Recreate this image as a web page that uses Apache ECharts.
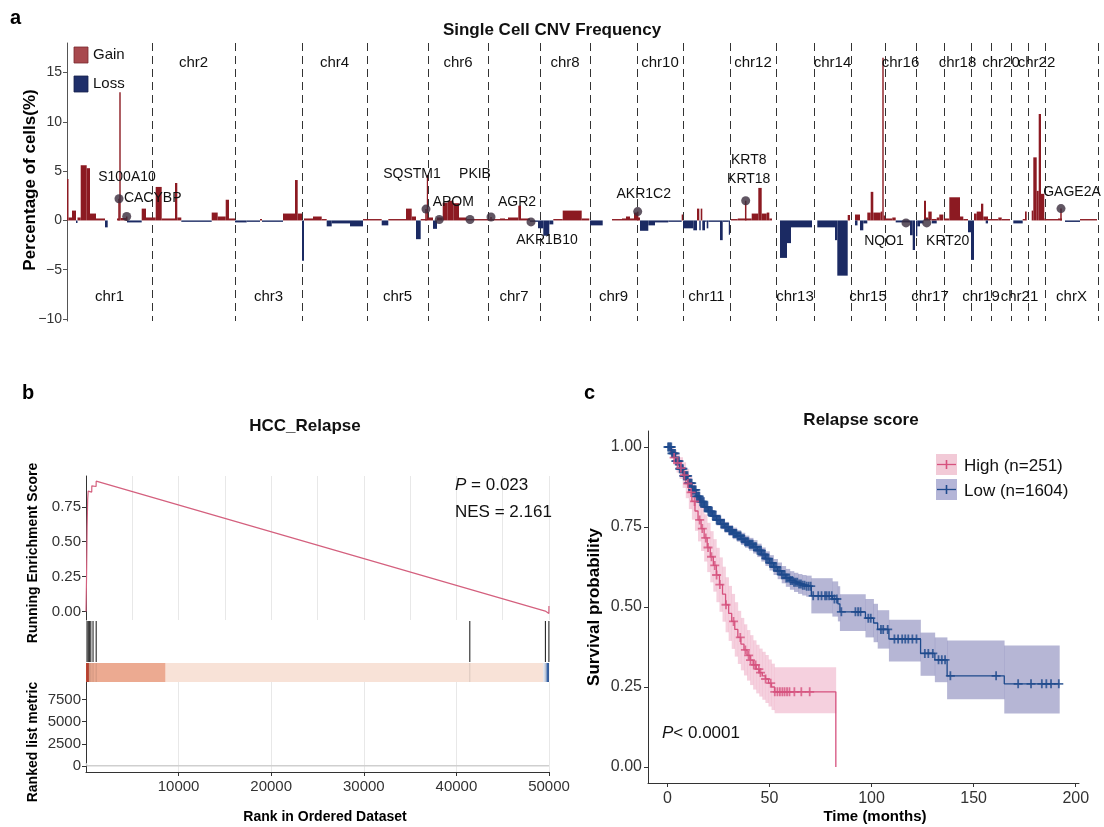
<!DOCTYPE html>
<html><head><meta charset="utf-8">
<script src="https://cdn.jsdelivr.net/npm/echarts@6/dist/echarts.min.js"></script>
<style>html,body{margin:0;padding:0;background:#fff}#c{width:1104px;height:827px}</style>
</head><body><div id="c"></div><script>
const FONT = "'Liberation Sans', Arial, Helvetica, sans-serif";

// ---------- Panel a: single-cell CNV frequency ----------
const chrNames = ['chr1','chr2','chr3','chr4','chr5','chr6','chr7','chr8','chr9','chr10','chr11','chr12','chr13','chr14','chr15','chr16','chr17','chr18','chr19','chr20','chr21','chr22','chrX'];
const chrLengths = [85,83,67,65,61,60,52,50,47,46,47,46,38,37,34,31,28,27,20,20,17,17,53];
// [chromosome index, start, end, % of cells] (positions relative to chromosome start)
const cnvSegments = [
  [1,0,1.5,4.2],[1,1.5,5,0.3],[1,5,9,1.0],[1,9,10.5,-0.25],[1,10.5,13.7,0.3],[1,13.7,19.7,5.6],[1,19.7,23,5.3],[1,23,29,0.7],[1,29,38,0.2],[1,38,40.7,-0.7],
  [1,50,52.3,0.2],[1,52.3,53.7,13.0],[1,53.7,60,0.25],[1,60,74.7,-0.2],[1,74.7,79,1.2],[1,79,85,0.3],
  [2,0,3.7,0.3],[2,3.7,9.7,3.4],[2,9.7,23,0.2],[2,23,25.3,3.8],[2,25.3,29.3,0.3],[2,29.3,59.7,-0.1],[2,59.7,65.7,0.8],[2,65.7,73.7,0.4],[2,73.7,77,2.1],[2,77,83,0.2],
  [3,0,11.7,-0.2],[3,11.7,25,-0.1],[3,25,27,0.15],[3,27,48,-0.1],[3,48,60,0.7],[3,60,62.7,4.1],[3,62.7,67,0.7],
  [4,0,2,-4.1],[4,2,11,0.2],[4,11,19.7,0.4],[4,19.7,24.7,0.1],[4,24.7,29.7,-0.6],[4,29.7,48,-0.3],[4,48,61,-0.6],[4,61,65,0.1],
  [5,0,14.7,0.1],[5,14.7,21.3,-0.5],[5,21.3,39,0.1],[5,39,44.7,1.2],[5,44.7,49,0.4],[5,49,53.7,-1.9],[5,53.7,59.8,0.1],[5,59.8,61,4.6],
  [6,0,5,0.3],[6,5,9,-0.85],[6,9,14.7,0.3],[6,14.7,19.7,1.8],[6,19.7,25.3,2.0],[6,25.3,31,1.75],[6,31,38.7,0.3],[6,38.7,60,0.1],
  [7,0,12,0.1],[7,12,17,0.2],[7,17,20,0.05],[7,20,30.3,0.3],[7,30.3,33,1.5],[7,33,42,0.2],[7,42,50,-0.1],[7,50,52,-0.8],
  [8,0,3.3,-0.8],[8,3.3,9.3,-1.55],[8,9.3,13.3,-0.4],[8,13.3,22.7,0.1],[8,22.7,41.7,1.0],[8,41.7,49.3,0.2],
  [9,0,12.7,-0.5],[9,22,32,0.1],[9,32,36,0.2],[9,36,40,0.4],[9,40,44,0.2],[9,44,47,0.8],
  [10,0,3,0.3],[10,3,11.3,-1.05],[10,11.3,18,-0.5],[10,18,31.3,-0.2],[10,31.3,44.7,-0.05],[10,44.7,46,0.6],
  [11,0,10.3,-0.8],[11,10.3,14,-1.0],[11,14,16.3,1.2],[11,16.3,17.7,-1.0],[11,17.7,19.3,1.2],[11,19.3,22,-1.0],[11,22,23.7,-0.1],[11,23.7,25.3,-0.8],[11,25.3,37,-0.1],[11,37,39.7,-2.0],[11,39.7,45.8,-0.1],[11,45.8,47,-1.45],
  [12,1,7.7,0.1],[12,7.7,14,0.2],[12,14,21.7,0.2],[12,21.7,28.3,0.7],[12,28.3,31.7,3.3],[12,31.7,36.7,0.7],[12,36.7,39.3,0.8],[12,39.3,42,0.2],
  [13,4,11,-3.8],[13,11,15,-2.3],[13,15,36,-0.7],
  [14,3.3,21,-0.7],[14,21,23.3,-2.0],[14,23.3,33.7,-5.6],[14,33.7,36,0.55],
  [15,4,9,0.6],[15,4,6.5,-0.5],[15,9,12.3,-1.0],[15,12.3,16.3,-0.3],[15,16.3,19.7,0.8],[15,19.7,22.3,2.9],[15,22.3,29.7,0.8],[15,29.7,31.3,0.9],[15,31.3,32.7,16.5],[15,32.7,34,0.5],
  [16,0,7.3,0.2],[16,7.3,10.7,0.3],[16,10.7,25,-0.2],[16,25,27.7,-1.5],[16,27.7,30,-3.0],
  [17,0,1.3,-1.6],[17,1.3,4,-0.6],[17,4,7.5,-0.3],[17,8,10,2.0],[17,10,12.3,0.3],[17,12.3,15.7,0.9],[17,15.7,20.7,-0.3],[17,15.7,20.7,0.15],[17,20.7,23.3,0.3],[17,23.3,27.3,0.6],
  [18,0,5.3,0.2],[18,5.3,16,2.35],[18,16,19.3,0.4],[18,19.3,24,0.1],[18,24,27,-1.2],
  [19,0,3,-4.0],[19,3,5.7,0.7],[19,5.7,10,0.9],[19,10,12.3,1.7],[19,12.3,17,0.4],[19,14.7,17,-0.3],[19,17,20,0.05],
  [20,0,7.3,0.1],[20,7.3,10.7,0.3],[20,10.7,19,0.1],
  [21,2.3,11.7,-0.3],[21,11.7,14,0.1],[21,14,15.7,0.9],
  [22,3.7,5.3,1.0],[22,5.3,8.7,6.4],[22,8.7,10.7,3.0],[22,10.7,13,10.8],[22,13,16.3,2.7],[22,16.3,17,0.2],
  [23,0,13,0.1],[23,13,17,0.2],[23,20,35,-0.15],[23,35,52,0.05]
];
const geneNames = ['S100A10','CACYBP','SQSTM1','APOM','PKIB','AGR2','AKR1B10','AKR1C2','KRT8\nKRT18','NQO1','KRT20','GAGE2A'];
const geneChr = [1,1,5,6,6,7,7,10,12,16,17,23];
const genePos = [52,59.7,59,11.3,42,3,43,0.7,15.7,21,10.7,16];
const geneValue = [2.2,0.4,1.15,0.1,0.1,0.35,-0.15,0.9,2.0,-0.25,-0.25,1.2];
const cnvTicks = [-10,-5,0,5,10,15];

// ---------- Panel b: GSEA ----------
const esRank = [0,60,120,180,236,620,628,1090,1100,49600,49610,49985,49995];
const esScore = [0,0.25,0.6,0.8,0.862,0.855,0.9,0.895,0.933,0.004,0.01,-0.013,0.04];
const hitRanks = [110,240,360,520,760,1100,41450,49610,49990];
const colorBarBreaks = [0,320,8600,49400,49720,50000];
const rankedRank = [1,120,50000];
const rankedMetric = [300,0,0];
const esTicks = [0,0.25,0.5,0.75];
const rankTicks = [10000,20000,30000,40000,50000];
const metricTicks = [0,2500,5000,7500];

// ---------- Panel c: Kaplan-Meier ----------
const highTime = [0,1.5,3,4.5,6,7.5,9,10.5,12,13.5,15,16.5,18,19.5,21,22.5,24,25.5,27,28.5,30,31.5,33,34.5,36,37.5,39,40.5,42,43.5,45,46.5,48,49.5,51,52.5,82.5];
const highSurv = [1,0.985,0.967,0.95,0.934,0.912,0.886,0.858,0.83,0.8,0.772,0.745,0.716,0.686,0.657,0.63,0.6,0.57,0.54,0.507,0.48,0.455,0.43,0.405,0.384,0.366,0.349,0.334,0.319,0.306,0.295,0.285,0.275,0.262,0.25,0.235,0];
const highLower = [1,0.97,0.943,0.92,0.9,0.872,0.84,0.806,0.773,0.738,0.705,0.675,0.642,0.609,0.577,0.548,0.515,0.485,0.454,0.421,0.394,0.369,0.345,0.322,0.302,0.286,0.27,0.256,0.242,0.23,0.22,0.21,0.2,0.189,0.178,0.168,0.168];
const highUpper = [1,0.998,0.99,0.98,0.968,0.952,0.932,0.91,0.887,0.862,0.839,0.815,0.79,0.763,0.737,0.712,0.685,0.655,0.626,0.593,0.566,0.541,0.515,0.488,0.466,0.446,0.428,0.412,0.396,0.382,0.37,0.36,0.35,0.336,0.323,0.312,0.312];
const highCensor = [3.3,5,6.6,8.3,10,11.6,13.3,15.8,17.1,18.8,19.9,21.6,23.2,24.1,25.7,28.7,32.4,35.7,38.2,39.8,40.7,42.3,43.2,44.8,45.6,48.1,50.6,52.6,53.9,55.1,56.3,57.4,58.6,59.8,62.2,65.6,69.7];
const lowTime = [0,2,4,6,8,10,12,14,16,18,20,22,24,26,28,30,32,34,36,38,40,42,44,46,48,50,52,54,56,58,60,62,64,66,68,70.5,80.8,83.5,84.5,97,101,103,108.5,124,131,137,165,192];
const lowSurv = [1,0.98,0.956,0.932,0.91,0.887,0.866,0.846,0.829,0.813,0.799,0.785,0.772,0.76,0.749,0.739,0.73,0.722,0.713,0.704,0.696,0.688,0.677,0.664,0.651,0.638,0.625,0.613,0.601,0.591,0.583,0.577,0.572,0.568,0.565,0.535,0.525,0.51,0.485,0.465,0.45,0.43,0.4,0.355,0.335,0.285,0.26,0.26];
const lowLower = [1,0.974,0.948,0.922,0.899,0.875,0.853,0.832,0.814,0.798,0.783,0.769,0.755,0.743,0.732,0.722,0.712,0.704,0.694,0.685,0.676,0.667,0.656,0.642,0.628,0.614,0.6,0.587,0.574,0.563,0.554,0.547,0.541,0.536,0.532,0.48,0.47,0.455,0.425,0.405,0.39,0.37,0.33,0.285,0.265,0.212,0.167,0.167];
const lowUpper = [1,0.986,0.964,0.942,0.921,0.899,0.879,0.86,0.844,0.828,0.815,0.801,0.789,0.777,0.766,0.756,0.748,0.74,0.732,0.723,0.716,0.709,0.698,0.686,0.674,0.662,0.65,0.639,0.628,0.619,0.612,0.607,0.603,0.6,0.598,0.59,0.58,0.565,0.54,0.525,0.51,0.49,0.46,0.42,0.405,0.395,0.38,0.38];
const lowCensor = [0.3,0.7,1.1,1.5,1.9,2.2,2.6,3.0,3.4,3.8,4.1,4.5,4.9,5.3,5.7,6.0,6.4,6.8,7.2,7.6,8.0,8.3,8.7,9.1,9.5,9.9,10.3,10.7,11.1,11.5,11.9,12.3,12.7,13.1,13.5,13.9,14.3,14.8,15.2,15.6,16.0,16.5,16.9,17.3,17.8,18.2,18.6,19.1,19.5,20.0,20.4,20.9,21.3,21.8,22.2,22.7,23.1,23.6,24.1,24.5,25.0,25.5,25.9,26.4,26.9,27.4,27.8,28.3,28.8,29.3,29.8,30.3,30.8,31.3,31.8,32.3,32.8,33.3,33.8,34.3,34.8,35.4,35.9,36.4,36.9,37.5,38.0,38.5,39.1,39.6,40.2,40.7,41.3,41.8,42.4,43.0,43.5,44.1,44.7,45.3,45.9,46.5,47.1,47.7,48.3,48.9,49.5,50.2,50.8,51.4,52.1,52.7,53.4,54.0,54.7,55.4,56.1,56.8,57.5,58.2,58.9,59.7,60.4,61.2,62.0,62.8,63.6,64.5,65.4,66.3,67.2,68.2,69.2,70.2,71.4,73.9,75.5,77.2,78,79.2,80.5,81.8,83,85.2,92.1,93.4,94.6,98.4,99.6,104.6,105.7,107.9,111.2,113,115,116.5,118,120,122,126.1,127.8,130,132.8,134.4,136,138.6,161,171.8,178.1,183.4,185.6,187.9,191.7];
const survTicks = [0,0.25,0.5,0.75,1];
const timeTicks = [0,50,100,150,200];

// ---------- styles ----------
const GAIN = '#8C1A22', LOSS = '#1B2A63', DOT = '#3A2C3C';
const geneLabelOffsets = [[8,-22],[26,-18],[-14,-35],[14,-17],[5,-45],[26,-15],[16,18],[6,-17],[3,-31],[-22,18],[21,18],[11,-16]];
const colorBarColors = ['#C84A36','#ECAA91','#F8E2D7','#D6DDEB','#3A64A6'];
const HIGH = '#D6527E', LOW = '#1E4A8C';
const PLUS = 'path://M4,0h2v4h4v2h-4v4h-2v-4h-4v-2h4z';

// ---------- derived ----------
const chrStart = []; let acc = 0;
chrLengths.forEach(l => { chrStart.push(acc); acc += l; });
const genomeLen = acc;
const segData = cnvSegments.map(s => [chrStart[s[0]-1] + s[1], chrStart[s[0]-1] + s[2], s[3]]);
const boundaries = chrLengths.map((l, i) => chrStart[i] + l);
const chrCenters = chrLengths.map((l, i) => [chrStart[i] + l / 2, i]);
const geneX = genePos.map((p, i) => chrStart[geneChr[i]-1] + p);
function stepAt(times, surv, t) { let k = 0; for (let i = 0; i < times.length; i++) if (times[i] <= t) k = i; return surv[k]; }
function bandData(times, lo, hi) { const d = []; for (let i = 0; i < times.length - 1; i++) d.push([times[i], times[i+1], lo[i], hi[i]]); return d; }

const axisCol = '#333';
const tickLab = (fs) => ({ color: '#333', fontSize: fs, fontFamily: FONT });
const plain = v => String(v);

const option = {
  animation: false,
  textStyle: { fontFamily: FONT },
  grid: [
    { left: 67, top: 43, width: genomeLen, height: 278 },
    { left: 86, top: 476, width: 463, height: 144 },
    { left: 86, top: 621, width: 463, height: 41 },
    { left: 86, top: 663, width: 463, height: 19 },
    { left: 86, top: 682, width: 463, height: 90 },
    { left: 648, top: 431, width: 431, height: 352 }
  ],
  xAxis: [
    { gridIndex: 0, type: 'value', min: 0, max: genomeLen, show: false },
    { gridIndex: 1, type: 'value', min: 0, max: 50000, interval: 5000, axisLine: { show: false }, axisTick: { show: false }, axisLabel: { show: false }, splitLine: { show: true, lineStyle: { color: '#E8E8E8', width: 1 } } },
    { gridIndex: 2, type: 'value', min: 0, max: 50000, show: false },
    { gridIndex: 3, type: 'value', min: 0, max: 50000, show: false },
    { gridIndex: 4, type: 'value', min: 0, max: 50000, interval: 5000,
      axisLine: { show: true, onZero: false, lineStyle: { color: axisCol, width: 1 } },
      axisTick: { show: true, customValues: rankTicks, length: 4, lineStyle: { color: axisCol } },
      axisLabel: { show: true, customValues: rankTicks, margin: 7, formatter: plain, ...tickLab(15) },
      splitLine: { show: true, lineStyle: { color: '#E8E8E8', width: 1 } } },
    { gridIndex: 5, type: 'value', min: -9.5, max: 201.6,
      axisLine: { show: true, onZero: false, lineStyle: { color: axisCol, width: 1 } },
      axisTick: { show: true, customValues: timeTicks, length: 4, lineStyle: { color: axisCol } },
      axisLabel: { show: true, customValues: timeTicks, margin: 8, formatter: plain, ...tickLab(16) },
      splitLine: { show: false } }
  ],
  yAxis: [
    { gridIndex: 0, type: 'value', min: -10.2, max: 18,
      axisLine: { show: true, onZero: false, lineStyle: { color: '#555', width: 1 } },
      axisTick: { show: true, customValues: cnvTicks, length: 4, lineStyle: { color: '#555' } },
      axisLabel: { show: true, customValues: cnvTicks, margin: 5, formatter: v => (v < 0 ? '\u2212' + Math.abs(v) : String(v)), ...tickLab(14) },
      splitLine: { show: false } },
    { gridIndex: 1, type: 'value', min: -0.06, max: 0.97,
      axisLine: { show: true, onZero: false, lineStyle: { color: axisCol, width: 1 } },
      axisTick: { show: true, customValues: esTicks, length: 4, lineStyle: { color: axisCol } },
      axisLabel: { show: true, customValues: esTicks, margin: 5, formatter: v => v.toFixed(2), ...tickLab(15) },
      splitLine: { show: false } },
    { gridIndex: 2, type: 'value', min: 0, max: 1, show: false },
    { gridIndex: 3, type: 'value', min: 0, max: 1, show: false },
    { gridIndex: 4, type: 'value', min: -700, max: 9500,
      axisLine: { show: true, onZero: false, lineStyle: { color: axisCol, width: 1 } },
      axisTick: { show: true, customValues: metricTicks, length: 4, lineStyle: { color: axisCol } },
      axisLabel: { show: true, customValues: metricTicks, margin: 5, formatter: plain, ...tickLab(15) },
      splitLine: { show: false } },
    { gridIndex: 5, type: 'value', min: -0.05, max: 1.05,
      axisLine: { show: true, onZero: false, lineStyle: { color: axisCol, width: 1 } },
      axisTick: { show: true, customValues: survTicks, length: 4, lineStyle: { color: axisCol } },
      axisLabel: { show: true, customValues: survTicks, margin: 6, formatter: v => v.toFixed(2), ...tickLab(16) },
      splitLine: { show: false } }
  ],
  series: [
    // chromosome boundaries (dashed)
    { type: 'custom', xAxisIndex: 0, yAxisIndex: 0, silent: true, z: 1,
      data: boundaries.map(b => [b]), encode: { x: 0 },
      renderItem: (params, api) => {
        const cs = params.coordSys; const x = Math.round(api.coord([api.value(0), 0])[0]) + 0.5;
        return { type: 'line', shape: { x1: x, y1: cs.y, x2: x, y2: cs.y + cs.height }, style: { stroke: '#333', lineWidth: 1, lineDash: [8, 5] } };
      } },
    // CNV bars
    { type: 'custom', xAxisIndex: 0, yAxisIndex: 0, z: 2,
      data: segData, encode: { x: [0, 1], y: 2 },
      renderItem: (params, api) => {
        const v = api.value(2);
        const p0 = api.coord([api.value(0), 0]), p1 = api.coord([api.value(1), v]);
        const h = Math.max(Math.abs(p1[1] - p0[1]), 1.4);
        const y = v >= 0 ? p0[1] - h : p0[1];
        return { type: 'rect', shape: { x: p0[0], y: y, width: Math.max(p1[0] - p0[0], 0.9), height: h }, style: { fill: v >= 0 ? GAIN : LOSS } };
      } },
    // lollipop stems
    { type: 'custom', xAxisIndex: 0, yAxisIndex: 0, z: 3,
      data: geneX.map((x, i) => [x, geneValue[i]]).filter(d => d[1] > 0.3), encode: { x: 0, y: 1 },
      renderItem: (params, api) => {
        const a = api.coord([api.value(0), 0]), b = api.coord([api.value(0), api.value(1)]);
        return { type: 'line', shape: { x1: a[0], y1: a[1], x2: b[0], y2: b[1] }, style: { stroke: GAIN, lineWidth: 1.5 } };
      } },
    // gene points
    { type: 'scatter', xAxisIndex: 0, yAxisIndex: 0, z: 5, symbolSize: 9,
      itemStyle: { color: DOT }, data: geneX.map((x, i) => [x, geneValue[i]]) },
    // gene labels
    { type: 'custom', xAxisIndex: 0, yAxisIndex: 0, z: 6, silent: true,
      data: geneX.map((x, i) => [x, geneValue[i], i]), encode: { x: 0, y: 1 },
      renderItem: (params, api) => {
        const i = api.value(2); const p = api.coord([api.value(0), api.value(1)]);
        const o = geneLabelOffsets[i];
        return { type: 'text', x: p[0] + o[0], y: p[1] + o[1], style: { text: geneNames[i], align: 'center', verticalAlign: 'middle', fontSize: 14, lineHeight: 19, fontFamily: FONT, fill: '#111' } };
      } },
    // chromosome labels
    { type: 'custom', xAxisIndex: 0, yAxisIndex: 0, z: 4, silent: true,
      data: chrCenters, encode: { x: 0 },
      renderItem: (params, api) => {
        const cs = params.coordSys; const i = api.value(1);
        const x = api.coord([api.value(0), 0])[0];
        const y = (i % 2 === 1) ? cs.y + 20 : cs.y + cs.height - 24;
        return { type: 'text', x: x, y: y, style: { text: chrNames[i], align: 'center', verticalAlign: 'middle', fontSize: 15, fontFamily: FONT, fill: '#111' } };
      } },

    // ---- panel b ----
    { type: 'line', xAxisIndex: 1, yAxisIndex: 1, showSymbol: false, symbol: 'none',
      data: esRank.map((r, i) => [r, esScore[i]]), lineStyle: { color: '#D4607E', width: 1.2 }, z: 3 },
    { type: 'custom', xAxisIndex: 2, yAxisIndex: 2, data: hitRanks.map(r => [r]), encode: { x: 0 },
      renderItem: (params, api) => {
        const cs = params.coordSys; const x = api.coord([api.value(0), 0])[0];
        return { type: 'line', shape: { x1: x, y1: cs.y, x2: x, y2: cs.y + cs.height }, style: { stroke: '#111', lineWidth: 1 } };
      } },
    { type: 'custom', xAxisIndex: 3, yAxisIndex: 3,
      data: colorBarColors.map((c, i) => [colorBarBreaks[i], colorBarBreaks[i+1], i]), encode: { x: [0, 1] },
      renderItem: (params, api) => {
        const cs = params.coordSys; const a = api.coord([api.value(0), 0])[0], b = api.coord([api.value(1), 0])[0];
        return { type: 'rect', shape: { x: a, y: cs.y, width: b - a, height: cs.height }, style: { fill: colorBarColors[api.value(2)] } };
      } },
    { type: 'custom', xAxisIndex: 3, yAxisIndex: 3, data: hitRanks.map(r => [r]), encode: { x: 0 }, z: 3,
      renderItem: (params, api) => {
        const cs = params.coordSys; const x = api.coord([api.value(0), 0])[0];
        return { type: 'line', shape: { x1: x, y1: cs.y, x2: x, y2: cs.y + cs.height }, style: { stroke: 'rgba(0,0,0,0.12)', lineWidth: 1 } };
      } },
    { type: 'line', xAxisIndex: 4, yAxisIndex: 4, showSymbol: false, symbol: 'none',
      data: rankedRank.map((r, i) => [r, rankedMetric[i]]), lineStyle: { color: '#CFCFCF', width: 1.5 } },

    // ---- panel c ----
    { type: 'custom', xAxisIndex: 5, yAxisIndex: 5, z: 1, data: bandData(lowTime, lowLower, lowUpper), encode: { x: [0, 1], y: [2, 3] },
      renderItem: (params, api) => {
        const a = api.coord([api.value(0), api.value(3)]), b = api.coord([api.value(1), api.value(2)]);
        return { type: 'rect', shape: { x: a[0], y: a[1], width: b[0] - a[0] + 0.3, height: b[1] - a[1] }, style: { fill: 'rgba(72,72,150,0.40)' } };
      } },
    { type: 'custom', xAxisIndex: 5, yAxisIndex: 5, z: 1, data: bandData(highTime, highLower, highUpper), encode: { x: [0, 1], y: [2, 3] },
      renderItem: (params, api) => {
        const a = api.coord([api.value(0), api.value(3)]), b = api.coord([api.value(1), api.value(2)]);
        return { type: 'rect', shape: { x: a[0], y: a[1], width: b[0] - a[0] + 0.3, height: b[1] - a[1] }, style: { fill: 'rgba(226,120,160,0.35)' } };
      } },
    { type: 'line', xAxisIndex: 5, yAxisIndex: 5, step: 'end', showSymbol: false, symbol: 'none', z: 3,
      data: lowTime.map((t, i) => [t, lowSurv[i]]), lineStyle: { color: LOW, width: 1.3 } },
    { type: 'line', xAxisIndex: 5, yAxisIndex: 5, step: 'end', showSymbol: false, symbol: 'none', z: 3,
      data: highTime.map((t, i) => [t, highSurv[i]]), lineStyle: { color: HIGH, width: 1.3 } },
    { type: 'scatter', xAxisIndex: 5, yAxisIndex: 5, z: 4, symbol: PLUS, symbolSize: 9,
      data: lowCensor.map(t => [t, stepAt(lowTime, lowSurv, t)]), itemStyle: { color: LOW } },
    { type: 'scatter', xAxisIndex: 5, yAxisIndex: 5, z: 4, symbol: PLUS, symbolSize: 9,
      data: highCensor.map(t => [t, stepAt(highTime, highSurv, t)]), itemStyle: { color: HIGH } }
  ],
  graphic: [
    { type: 'text', x: 10, y: 18, style: { text: 'a', font: 'bold 20px ' + FONT, fill: '#000', verticalAlign: 'middle' } },
    { type: 'text', x: 22, y: 393, style: { text: 'b', font: 'bold 20px ' + FONT, fill: '#000', verticalAlign: 'middle' } },
    { type: 'text', x: 584, y: 393, style: { text: 'c', font: 'bold 20px ' + FONT, fill: '#000', verticalAlign: 'middle' } },
    { type: 'text', x: 552, y: 30, style: { text: 'Single Cell CNV Frequency', font: 'bold 17px ' + FONT, fill: '#111', align: 'center', verticalAlign: 'middle' } },
    { type: 'text', x: 305, y: 426, style: { text: 'HCC_Relapse', font: 'bold 17px ' + FONT, fill: '#111', align: 'center', verticalAlign: 'middle' } },
    { type: 'text', x: 861, y: 420, style: { text: 'Relapse score', font: 'bold 17px ' + FONT, fill: '#111', align: 'center', verticalAlign: 'middle' } },
    // axis titles
    { type: 'text', x: 30, y: 180, rotation: Math.PI / 2, style: { text: 'Percentage of cells(%)', font: 'bold 17px ' + FONT, fill: '#000', align: 'center', verticalAlign: 'middle' } },
    { type: 'text', x: 33, y: 553, rotation: Math.PI / 2, style: { text: 'Running Enrichment Score', font: 'bold 14px ' + FONT, fill: '#000', align: 'center', verticalAlign: 'middle' } },
    { type: 'text', x: 33, y: 742, rotation: Math.PI / 2, style: { text: 'Ranked list metric', font: 'bold 14px ' + FONT, fill: '#000', align: 'center', verticalAlign: 'middle' } },
    { type: 'text', x: 325, y: 817, style: { text: 'Rank in Ordered Dataset', font: 'bold 14px ' + FONT, fill: '#000', align: 'center', verticalAlign: 'middle' } },
    { type: 'text', x: 594, y: 607, rotation: Math.PI / 2, style: { text: 'Survival probability', font: 'bold 17px ' + FONT, fill: '#000', align: 'center', verticalAlign: 'middle' } },
    { type: 'text', x: 875, y: 817, style: { text: 'Time (months)', font: 'bold 15px ' + FONT, fill: '#000', align: 'center', verticalAlign: 'middle' } },
    // panel a legend
    { type: 'rect', shape: { x: 74, y: 47, width: 14, height: 16 }, style: { fill: '#A8494E', stroke: '#7A2A2E', lineWidth: 0.8 } },
    { type: 'text', x: 93, y: 55, style: { text: 'Gain', fontSize: 15, fontFamily: FONT, fill: '#111', verticalAlign: 'middle' } },
    { type: 'rect', shape: { x: 74, y: 76, width: 14, height: 16 }, style: { fill: '#1F2F6A', stroke: '#16214D', lineWidth: 0.8 } },
    { type: 'text', x: 93, y: 84, style: { text: 'Loss', fontSize: 15, fontFamily: FONT, fill: '#111', verticalAlign: 'middle' } },
    // panel b stats
    { type: 'text', x: 455, y: 485, z: 100, style: { text: '{i|P} = 0.023', fontSize: 17, fontFamily: FONT, fill: '#111', verticalAlign: 'middle', rich: { i: { fontStyle: 'italic', fontSize: 17, fontFamily: FONT, fill: '#111' } } } },
    { type: 'text', x: 455, y: 512, z: 100, style: { text: 'NES = 2.161', fontSize: 17, fontFamily: FONT, fill: '#111', verticalAlign: 'middle' } },
    // panel c p-value
    { type: 'text', x: 662, y: 733, style: { text: '{i|P}< 0.0001', fontSize: 17, fontFamily: FONT, fill: '#111', verticalAlign: 'middle', rich: { i: { fontStyle: 'italic', fontSize: 17, fontFamily: FONT, fill: '#111' } } } },
    // panel c legend
    { type: 'rect', shape: { x: 936, y: 454, width: 21, height: 21 }, style: { fill: '#F2CAD7' } },
    { type: 'line', shape: { x1: 937, y1: 464.5, x2: 956, y2: 464.5 }, style: { stroke: HIGH, lineWidth: 1.3 } },
    { type: 'line', shape: { x1: 946.5, y1: 460, x2: 946.5, y2: 469 }, style: { stroke: HIGH, lineWidth: 1.6 } },
    { type: 'text', x: 964, y: 466, style: { text: 'High (n=251)', fontSize: 17, fontFamily: FONT, fill: '#111', verticalAlign: 'middle' } },
    { type: 'rect', shape: { x: 936, y: 479, width: 21, height: 21 }, style: { fill: '#B4B5D7' } },
    { type: 'line', shape: { x1: 937, y1: 489.5, x2: 956, y2: 489.5 }, style: { stroke: LOW, lineWidth: 1.3 } },
    { type: 'line', shape: { x1: 946.5, y1: 485, x2: 946.5, y2: 494 }, style: { stroke: LOW, lineWidth: 1.6 } },
    { type: 'text', x: 964, y: 491, style: { text: 'Low (n=1604)', fontSize: 17, fontFamily: FONT, fill: '#111', verticalAlign: 'middle' } }
  ]
};
const chart = echarts.init(document.getElementById('c'), null, { renderer: 'canvas' });
chart.setOption(option);
</script></body></html>
